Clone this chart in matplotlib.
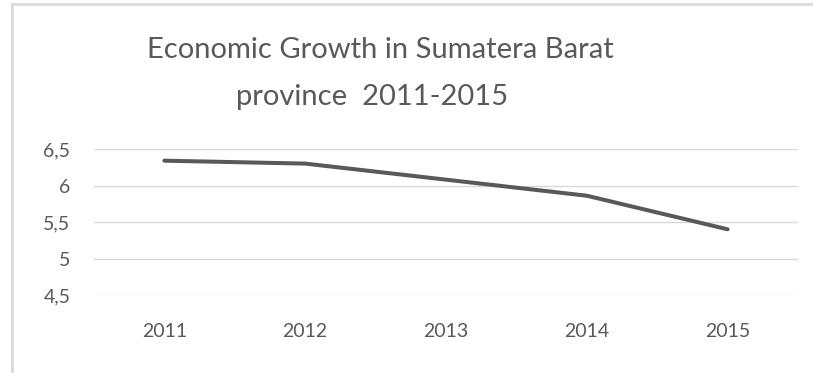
import matplotlib
matplotlib.use("Agg")
import matplotlib.pyplot as plt
from matplotlib.lines import Line2D

# economic growth (%) by year
years = ["2011", "2012", "2013", "2014", "2015"]
growth = [6.34, 6.30, 6.08, 5.86, 5.40]
yticks = [4.5, 5.0, 5.5, 6.0, 6.5]
ytick_labels = ["4,5", "5", "5,5", "6", "6,5"]
title_lines = ["Economic Growth in Sumatera Barat", "province  2011-2015"]

text_color = "#595959"
grid_color = "#d9d9d9"

plt.rcParams["font.family"] = ["Lato", "DejaVu Sans"]

fig = plt.figure(figsize=(8.13, 3.73), dpi=100)
ax = fig.add_axes([94 / 813, 1 - 295 / 373, (798 - 94) / 813, (295 - 149) / 373])

x = list(range(len(years)))
ax.plot(x, growth, color="#595959", lw=2.9, solid_capstyle="round", solid_joinstyle="round", zorder=3)

ax.set_xlim(-0.5, len(years) - 0.5)
ax.set_ylim(4.5, 6.5)
ax.set_xticks(x)
ax.set_xticklabels(years)
ax.set_yticks(yticks)
ax.set_yticklabels(ytick_labels)
ax.tick_params(axis="both", length=0, labelsize=14, colors=text_color)
ax.tick_params(axis="x", pad=20)
ax.tick_params(axis="y", pad=17)
ax.grid(axis="y", color=grid_color, lw=1)
ax.set_axisbelow(True)
for s in ax.spines.values():
    s.set_visible(False)

# two-line title
fig.text(380 / 813, 1 - 50 / 373, title_lines[0], ha="center", va="center",
         fontsize=21, color=text_color)
fig.text(372 / 813, 1 - 97 / 373, title_lines[1], ha="center", va="center",
         fontsize=21, color=text_color)

# outer chart frame (top and left edges only)
fig.add_artist(Line2D([12 / 813, 12 / 813], [0, 1 - 4 / 373], color=grid_color, lw=2))
fig.add_artist(Line2D([12 / 813, 1], [1 - 4 / 373, 1 - 4 / 373], color=grid_color, lw=2))

fig.savefig("out.png", dpi=100, facecolor="white")
